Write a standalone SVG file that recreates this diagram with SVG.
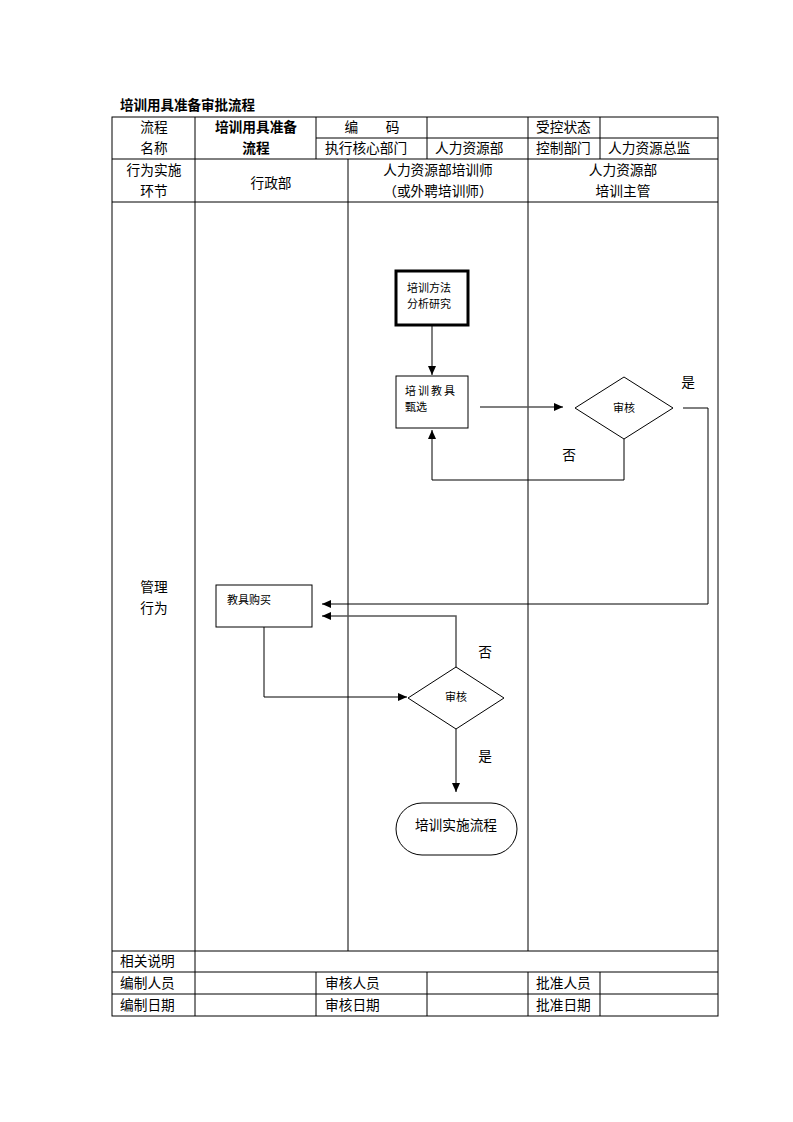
<svg xmlns="http://www.w3.org/2000/svg" width="793" height="1122" viewBox="0 0 793 1122">
<defs>
<style>
text{font-family:"Liberation Serif","Noto Sans CJK SC",serif;fill:#000}
.t{font-size:13.7px}
.c{text-anchor:middle}
.s{font-size:11px}
.b{font-weight:bold;font-family:"Liberation Sans","Noto Sans CJK SC",sans-serif}
.g{stroke:#000;stroke-width:1;fill:none}
.n{fill:#fff;stroke:#000;stroke-width:1}
.k{stroke:#000;stroke-width:1;fill:none}
.kg{stroke:#555;stroke-width:1.5;fill:none}
</style>
<marker id="ah" markerWidth="10" markerHeight="10" refX="9" refY="5" orient="auto" markerUnits="userSpaceOnUse">
<path d="M0,1 L9,5 L0,9 Z" fill="#000"/>
</marker>
</defs>
<rect width="793" height="1122" fill="#fff"/>
<text x="120" y="110" class="b" font-size="13.5">培训用具准备审批流程</text>
<g id="table">
<rect x="112" y="117" width="606" height="899" class="g"/>
<line x1="316" y1="138" x2="718" y2="138" class="g"/>
<line x1="112" y1="159" x2="718" y2="159" class="g"/>
<line x1="112" y1="202" x2="718" y2="202" class="g"/>
<line x1="112" y1="951" x2="718" y2="951" class="g"/>
<line x1="112" y1="972" x2="718" y2="972" class="g"/>
<line x1="112" y1="994" x2="718" y2="994" class="g"/>
<line x1="195" y1="117" x2="195" y2="1016" class="g"/>
<line x1="316" y1="117" x2="316" y2="159" class="g"/>
<line x1="427" y1="117" x2="427" y2="159" class="g"/>
<line x1="528" y1="117" x2="528" y2="159" class="g"/>
<line x1="600" y1="117" x2="600" y2="159" class="g"/>
<line x1="348" y1="159" x2="348" y2="951" class="g"/>
<line x1="528" y1="159" x2="528" y2="951" class="g"/>
<line x1="316" y1="972" x2="316" y2="1016" class="g"/>
<line x1="427" y1="972" x2="427" y2="1016" class="g"/>
<line x1="528" y1="972" x2="528" y2="1016" class="g"/>
<line x1="600" y1="972" x2="600" y2="1016" class="g"/>
<text x="154" y="132" class="t c">流程</text>
<text x="154" y="153" class="t c">名称</text>
<text x="256" y="132" class="t c b">培训用具准备</text>
<text x="256" y="153" class="t c b">流程</text>
<text x="372" y="132" class="t c">编　　码</text>
<text x="325" y="153" class="t">执行核心部门</text>
<text x="435" y="153" class="t">人力资源部</text>
<text x="536" y="132" class="t">受控状态</text>
<text x="536" y="153" class="t">控制部门</text>
<text x="608" y="153" class="t">人力资源总监</text>
<text x="154" y="175" class="t c">行为实施</text>
<text x="154" y="196" class="t c">环节</text>
<text x="271" y="188" class="t c">行政部</text>
<text x="438" y="175" class="t c">人力资源部培训师</text>
<text x="438" y="196" class="t c">（或外聘培训师）</text>
<text x="623" y="175" class="t c">人力资源部</text>
<text x="623" y="196" class="t c">培训主管</text>
<text x="154" y="592" class="t c">管理</text>
<text x="154" y="613" class="t c">行为</text>
<text x="120" y="966" class="t">相关说明</text>
<text x="120" y="988" class="t">编制人员</text>
<text x="325" y="988" class="t">审核人员</text>
<text x="536" y="988" class="t">批准人员</text>
<text x="120" y="1010" class="t">编制日期</text>
<text x="325" y="1010" class="t">审核日期</text>
<text x="536" y="1010" class="t">批准日期</text>
</g>
<g id="connectors">
<line x1="432" y1="325" x2="432" y2="375" class="kg" marker-end="url(#ah)"/>
<line x1="480" y1="407" x2="563" y2="407" class="kg" marker-end="url(#ah)"/>
<polyline points="624,439 624,480 432,480 432,430" class="k" marker-end="url(#ah)"/>
<polyline points="683,408 708,408 708,604 322,604" class="k" marker-end="url(#ah)"/>
<polyline points="456,668 456,616 322,616" class="kg" marker-end="url(#ah)"/>
<polyline points="264,627 264,697 407,697" class="k" marker-end="url(#ah)"/>
<line x1="456" y1="729" x2="456" y2="792" class="kg" marker-end="url(#ah)"/>
<text x="569" y="460" class="t c">否</text>
<text x="688" y="387" class="t c">是</text>
<text x="485" y="657" class="t c">否</text>
<text x="485" y="761" class="t c">是</text>
</g>
<g id="n1">
<rect x="396" y="271" width="72" height="54" fill="#fff" stroke="#000" stroke-width="3"/>
<text x="407" y="292" class="s">培训方法</text>
<text x="407" y="308" class="s">分析研究</text>
</g>
<g id="n2">
<rect x="396" y="376" width="72" height="52" class="n"/>
<text x="405" y="395" class="s" letter-spacing="2">培训教具</text>
<text x="405" y="411" class="s">甄选</text>
</g>
<g id="d1">
<polygon points="624,377 673,408 624,439 575,408" class="n"/>
<text x="624" y="412" class="s c">审核</text>
</g>
<g id="n3">
<rect x="216" y="585" width="96" height="42" class="n"/>
<text x="227" y="604" class="s">教具购买</text>
</g>
<g id="d2">
<polygon points="456,667 504,698 456,729 408,698" class="n"/>
<text x="456" y="701" class="s c">审核</text>
</g>
<g id="t1">
<rect x="396" y="803" width="121" height="52" rx="26" ry="26" class="n"/>
<text x="456" y="830" class="t c">培训实施流程</text>
</g>
</svg>
